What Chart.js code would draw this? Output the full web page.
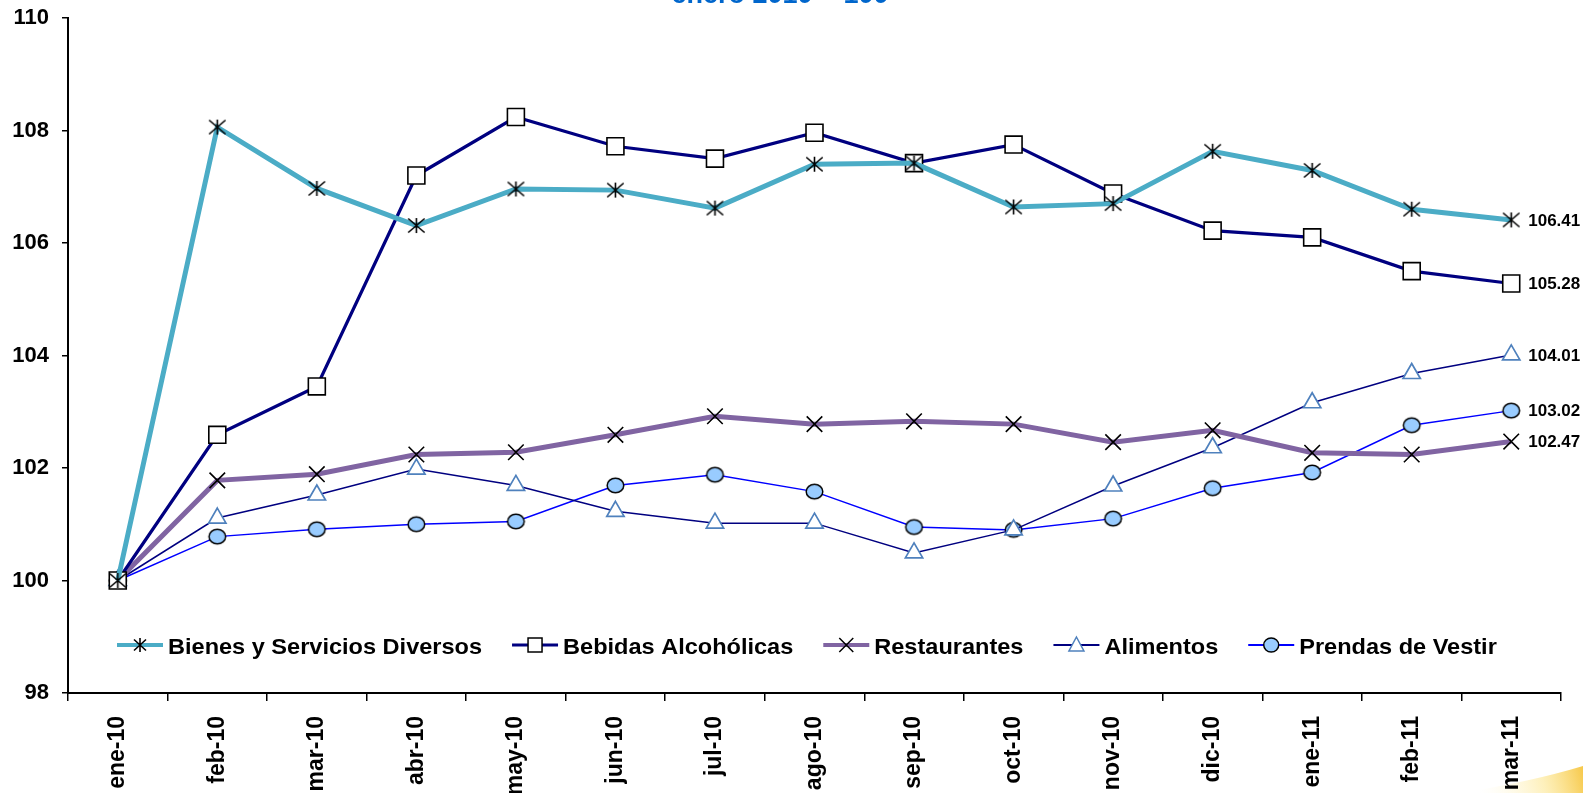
<!DOCTYPE html>
<html><head><meta charset="utf-8">
<script src="https://cdn.jsdelivr.net/npm/chart.js@4"></script>
<style>html,body{margin:0;padding:0;background:#fff;overflow:hidden;}#wrap{width:1583px;height:793px;position:relative;overflow:hidden;}canvas{display:block;}</style>
</head><body><div id="wrap"><canvas id="c" width="1583" height="793"></canvas></div>
<script>
const categories = ['ene-10','feb-10','mar-10','abr-10','may-10','jun-10','jul-10','ago-10','sep-10','oct-10','nov-10','dic-10','ene-11','feb-11','mar-11'];
const bienes = [100,108.06,106.97,106.31,106.96,106.94,106.62,107.40,107.42,106.64,106.70,107.63,107.29,106.60,106.41];
const bebidas = [100,102.59,103.45,107.20,108.24,107.72,107.50,107.96,107.42,107.75,106.88,106.22,106.10,105.50,105.28];
const restaurantes = [100,101.78,101.89,102.24,102.28,102.59,102.92,102.78,102.83,102.78,102.46,102.67,102.27,102.24,102.47];
const alimentos = [100,101.11,101.52,101.98,101.69,101.23,101.02,101.02,100.49,100.90,101.68,102.36,103.16,103.68,104.01];
const prendas = [100,100.78,100.91,101.00,101.05,101.69,101.88,101.58,100.95,100.90,101.10,101.64,101.92,102.76,103.02];
const seriesNames = ['Bienes y Servicios Diversos','Bebidas Alcohólicas','Restaurantes','Alimentos','Prendas de Vestir'];
const yTicks = [98,100,102,104,106,108,110];
const subtitle = 'enero 2010 = 100';

function asteriskCanvas(dx, dy, vy){
  const w = Math.ceil(dx*2+4), h = Math.ceil(Math.max(dy,vy)*2+4), c = document.createElement('canvas');
  c.width = w; c.height = h;
  const g = c.getContext('2d'), mx = w/2, my = h/2;
  g.strokeStyle = '#000'; g.lineWidth = 1.6;
  g.beginPath();
  g.moveTo(mx-dx,my-dy); g.lineTo(mx+dx,my+dy);
  g.moveTo(mx+dx,my-dy); g.lineTo(mx-dx,my+dy);
  g.moveTo(mx,my-vy); g.lineTo(mx,my+vy);
  g.stroke();
  return c;
}
function ellipseCanvas(rx, ry){
  const w = Math.ceil(rx*2+4), h = Math.ceil(ry*2+4), c = document.createElement('canvas');
  c.width = w; c.height = h;
  const g = c.getContext('2d');
  g.fillStyle = '#99CCFF'; g.strokeStyle = '#000'; g.lineWidth = 1.5;
  g.beginPath(); g.ellipse(w/2, h/2, rx, ry, 0, 0, Math.PI*2); g.fill(); g.stroke();
  return c;
}
const starImg = asteriskCanvas(8.2, 7, 7.5);
const starImgSmall = asteriskCanvas(6, 5.5, 7);
const ellImg = ellipseCanvas(8.3, 7.2);

const styles = [
  {color:'#4BACC6', width:5, point:starImg, bg:'#000', border:'#000', radius:9, legendW:4},
  {color:'#000080', width:3.2, point:'rect', bg:'#fff', border:'#000', radius:12, bw:1.6, legendW:3},
  {color:'#8064A2', width:5, point:'crossRot', bg:'#000', border:'#000', radius:11, bw:1.6, legendW:4},
  {color:'#000080', width:1.5, point:'triangle', bg:'#fff', border:'#4F81BD', radius:10, bw:1.7, legendW:2},
  {color:'#0000FF', width:1.5, point:ellImg, bg:'#99CCFF', border:'#000', radius:8, bw:1.5, legendW:2}
];
const seriesData = [bienes, bebidas, restaurantes, alimentos, prendas];

const datasets = seriesData.map((d,i)=>({
  label: seriesNames[i], data: d,
  borderColor: styles[i].color, borderWidth: styles[i].width,
  pointStyle: styles[i].point, pointRadius: styles[i].radius, pointHoverRadius: styles[i].radius,
  pointBackgroundColor: styles[i].bg, pointBorderColor: styles[i].border, pointBorderWidth: styles[i].bw || 1.5,
  tension: 0, fill: false
}));

const extras = {
  id:'extras',
  beforeDraw(chart){
    const ctx = chart.ctx;
    ctx.save();
    ctx.fillStyle = '#fff'; ctx.fillRect(0,0,chart.width,chart.height);
    const gr = ctx.createLinearGradient(1480,793,1583,765);
    gr.addColorStop(0,'rgba(255,248,210,0)');
    gr.addColorStop(0.6,'rgba(252,225,120,0.5)');
    gr.addColorStop(1,'rgba(245,190,40,0.85)');
    ctx.fillStyle = gr;
    ctx.beginPath();
    ctx.moveTo(1460,793); ctx.quadraticCurveTo(1530,782,1583,766); ctx.lineTo(1583,793); ctx.closePath();
    ctx.fill();
    ctx.restore();
  },
  afterDraw(chart){
    const ctx = chart.ctx;
    ctx.save();
    ctx.fillStyle = '#0066CC';
    ctx.font = 'bold 27px "Liberation Sans", Arial, sans-serif';
    ctx.textAlign = 'center'; ctx.textBaseline = 'alphabetic';
    ctx.fillText(subtitle, 780, 3);
    ctx.fillStyle = '#000';
    ctx.font = 'bold 17px "Liberation Sans", Arial, sans-serif';
    ctx.textAlign = 'left'; ctx.textBaseline = 'middle';
    chart.data.datasets.forEach((ds,i)=>{
      const meta = chart.getDatasetMeta(i);
      const p = meta.data[meta.data.length-1];
      ctx.fillText(ds.data[ds.data.length-1].toFixed(2), p.x+17, p.y+1);
    });
    let x = 117;
    const y = 645;
    const sx = 1.07;
    ctx.font = 'bold 22px "Liberation Sans", Arial, sans-serif';
    chart.data.datasets.forEach((ds,i)=>{
      const st = styles[i];
      ctx.strokeStyle = st.color; ctx.lineWidth = st.legendW;
      ctx.beginPath(); ctx.moveTo(x, y); ctx.lineTo(x+46, y); ctx.stroke();
      const cx = x+23;
      ctx.lineWidth = 1.5; ctx.strokeStyle = st.border; ctx.fillStyle = st.bg;
      ctx.beginPath();
      if (i===0){ ctx.drawImage(starImgSmall, cx - starImgSmall.width/2, y - starImgSmall.height/2); }
      else if (i===1){ ctx.rect(cx-7,y-7,14,14); ctx.fill(); ctx.stroke(); }
      else if (i===2){ ctx.moveTo(cx-7,y-7); ctx.lineTo(cx+7,y+7); ctx.moveTo(cx+7,y-7); ctx.lineTo(cx-7,y+7); ctx.stroke(); }
      else if (i===3){ ctx.moveTo(cx,y-8); ctx.lineTo(cx+7.5,y+6); ctx.lineTo(cx-7.5,y+6); ctx.closePath(); ctx.fill(); ctx.stroke(); }
      else { ctx.ellipse(cx,y,7.5,7,0,0,Math.PI*2); ctx.fill(); ctx.stroke(); }
      ctx.fillStyle = '#000'; ctx.textAlign='left'; ctx.textBaseline='alphabetic';
      const tw = ctx.measureText(ds.label).width * sx;
      ctx.save(); ctx.translate(x+51, 654); ctx.scale(sx,1); ctx.fillText(ds.label, 0, 0); ctx.restore();
      x += 51 + tw + 30;
    });
    ctx.restore();
  }
};

new Chart(document.getElementById('c'), {
  type:'line',
  data:{labels:categories, datasets},
  plugins:[extras],
  options:{
    responsive:false, animation:false, devicePixelRatio:1,
    layout:{padding:{top:18,right:22,left:0,bottom:0}},
    plugins:{legend:{display:false}, tooltip:{enabled:false}, title:{display:false}},
    scales:{
      x:{
        offset:true,
        grid:{display:true, offset:true, drawOnChartArea:false, drawTicks:true, tickLength:8, color:'#000', lineWidth:1.5},
        border:{display:true, color:'#000', width:2},
        ticks:{color:'#000', font:{family:'"Liberation Sans", Arial, sans-serif', size:23, weight:'bold'}, minRotation:90, maxRotation:90, autoSkip:false, padding:15},
        afterFit(s){ s.height = 100; s.paddingLeft = 0; s.paddingRight = 0; }
      },
      y:{
        min:98, max:110,
        afterBuildTicks(s){ s.ticks = yTicks.map(v=>({value:v})); },
        grid:{display:true, drawOnChartArea:false, drawTicks:true, tickLength:6, color:'#000', lineWidth:1.5},
        border:{display:true, color:'#000', width:2},
        ticks:{color:'#000', font:{family:'"Liberation Sans", Arial, sans-serif', size:22, weight:'bold'}, padding:13},
        afterFit(s){ s.width = 68; s.paddingTop = 0; s.paddingBottom = 0; }
      }
    }
  }
});
</script></body></html>
